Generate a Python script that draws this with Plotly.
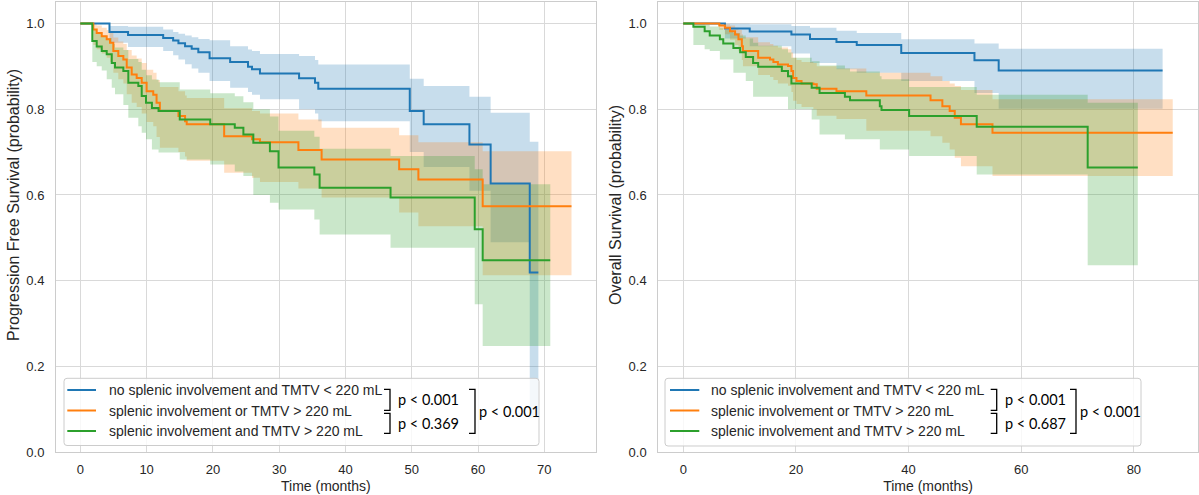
import plotly.graph_objects as go

# ---------------- data ----------------
# Left panel: progression free survival, Kaplan-Meier steps (months, probability)
pfs_a_t = [0, 4.4, 7.2, 12.5, 14.0, 14.8, 15.8, 16.8, 17.8, 19.5, 22.6, 25.3, 25.9, 27.1, 33.0, 35.4, 35.9, 49.7, 51.8, 58.7, 61.9, 67.8, 69.1]
pfs_a_s = [1.0, .980, .973, .966, .960, .954, .947, .941, .933, .919, .910, .899, .893, .883, .872, .862, .848, .796, .765, .718, .627, .419, .419]
pfs_a_lo = [1.0, .955, .945, .936, .926, .916, .905, .895, .885, .866, .850, .840, .834, .823, .800, .790, .772, .700, .665, .610, .490, .080, .080]
pfs_a_up = [1.0, .994, .992, .986, .980, .976, .972, .968, .964, .961, .947, .939, .936, .929, .924, .915, .904, .871, .854, .829, .792, .724, .724]

pfs_b_t = [0, 1.96, 2.47, 3.23, 3.98, 4.48, 4.98, 5.73, 6.49, 7.0, 7.75, 8.5, 9.26, 10.0, 11.0, 11.5, 12.0, 14.8, 15.8, 16.05, 21.7, 25.9, 27.1, 32.9, 36.4, 48.1, 51.0, 60.7, 74.1]
pfs_b_s = [1.0, .986, .978, .970, .963, .955, .936, .924, .916, .897, .881, .873, .862, .842, .834, .815, .796, .784, .772, .765, .737, .730, .723, .705, .683, .660, .636, .574, .574]
pfs_b_lo = [1.0, .95, .94, .93, .92, .91, .885, .87, .86, .835, .815, .805, .79, .77, .76, .735, .71, .70, .69, .68, .652, .64, .63, .615, .594, .559, .527, .413, .413]
pfs_b_up = [1.0, .998, .995, .99, .985, .98, .967, .958, .952, .938, .925, .918, .908, .892, .885, .868, .852, .842, .832, .826, .802, .796, .79, .776, .757, .739, .723, .702, .702]

pfs_c_t = [0, 1.81, 2.47, 3.23, 3.98, 4.74, 5.23, 6.49, 7.24, 8.75, 9.26, 9.91, 10.8, 11.8, 15.0, 19.6, 23.3, 24.6, 26.1, 28.6, 29.9, 35.3, 36.1, 46.8, 59.5, 60.7, 70.9]
pfs_c_s = [1.0, .959, .946, .936, .928, .908, .897, .889, .862, .854, .831, .815, .803, .796, .776, .765, .757, .741, .722, .702, .664, .648, .617, .594, .520, .448, .448]
pfs_c_lo = [1.0, .91, .90, .89, .87, .85, .835, .81, .78, .76, .745, .73, .706, .699, .683, .671, .655, .644, .60, .582, .566, .543, .508, .477, .345, .248, .248]
pfs_c_up = [1.0, .985, .978, .972, .966, .952, .944, .938, .917, .91, .892, .879, .869, .863, .846, .837, .830, .816, .80, .783, .75, .736, .708, .691, .66, .625, .625]

# Right panel: overall survival
os_a_t = [0, 7.4, 11.8, 19.2, 22.5, 27.2, 30.8, 38.7, 51.7, 56.0, 85.1]
os_a_s = [1.0, .988, .981, .974, .964, .957, .950, .931, .914, .890, .890]
os_a_lo = [1.0, .965, .947, .93, .908, .893, .885, .866, .838, .801, .801]
os_a_up = [1.0, .999, .998, .994, .99, .983, .978, .963, .953, .941, .941]

os_b_t = [0, 6.4, 7.4, 8.3, 9.2, 9.8, 10.4, 10.6, 13.3, 15.4, 16.0, 16.8, 18.6, 19.2, 19.5, 20.1, 21.0, 23.1, 23.7, 27.2, 32.5, 43.9, 46.0, 47.3, 48.2, 49.3, 54.9, 86.9]
os_b_s = [1.0, .995, .990, .982, .974, .963, .947, .936, .920, .916, .910, .904, .901, .889, .873, .866, .860, .858, .848, .842, .832, .821, .807, .796, .780, .765, .745, .745]
os_b_lo = [1.0, .985, .975, .962, .95, .935, .915, .90, .88, .875, .868, .86, .855, .84, .82, .812, .805, .80, .785, .777, .75, .737, .722, .706, .687, .667, .644, .644]
os_b_up = [1.0, 1.0, .998, .995, .99, .985, .975, .968, .956, .952, .948, .944, .94, .932, .92, .915, .91, .908, .9, .895, .885, .877, .866, .86, .854, .845, .823, .823]

os_c_t = [0, 1.8, 3.8, 4.7, 6.5, 7.1, 8.9, 10.1, 11.1, 12.4, 13.3, 17.5, 18.6, 19.2, 22.8, 24.2, 28.7, 29.6, 34.9, 35.2, 40.1, 52.1, 71.8, 80.7]
os_c_s = [1.0, .992, .982, .972, .963, .953, .943, .933, .922, .908, .899, .889, .877, .860, .850, .838, .829, .821, .807, .798, .784, .759, .664, .664]
os_c_lo = [1.0, .95, .94, .936, .916, .916, .885, .885, .866, .829, .829, .829, .80, .80, .776, .741, .73, .73, .706, .706, .691, .648, .436, .436]
os_c_up = [1.0, 1.0, .997, .993, .99, .985, .978, .972, .965, .955, .948, .94, .932, .92, .912, .902, .895, .888, .877, .87, .852, .834, .815, .815]

group_labels = ["no splenic involvement and TMTV < 220 mL",
                "splenic involvement or TMTV > 220 mL",
                "splenic involvement and TMTV > 220 mL"]
pfs_pvalues = ["p < 0.001", "p < 0.369", "p < 0.001"]
os_pvalues = ["p < 0.001", "p < 0.687", "p < 0.001"]
x_ticks_left = [0, 10, 20, 30, 40, 50, 60, 70]
x_ticks_right = [0, 20, 40, 60, 80]
y_ticks = [0.0, 0.2, 0.4, 0.6, 0.8, 1.0]
x_title = "Time (months)"
y_title_left = "Progression Free Survival (probability)"
y_title_right = "Overall Survival (probability)"

# ---------------- styling ----------------
W, H = 1199, 495
COLORS = ["#1f77b4", "#ff7f0e", "#2ca02c"]
BANDS = ["rgba(31,119,180,0.25)", "rgba(255,127,14,0.25)", "rgba(44,160,44,0.25)"]
FONT = "Liberation Sans, Arial, sans-serif"
PFONT = "Lato, Carlito, Calibri, sans-serif"
TXT = "#262626"
GRID = "#d9d9d9"


def px(x):
    return x / W


def py(y):
    return 1 - y / H


fig = go.Figure()

panels = [
    ("x", "y", [(pfs_a_t, pfs_a_s, pfs_a_lo, pfs_a_up),
                (pfs_b_t, pfs_b_s, pfs_b_lo, pfs_b_up),
                (pfs_c_t, pfs_c_s, pfs_c_lo, pfs_c_up)]),
    ("x2", "y2", [(os_a_t, os_a_s, os_a_lo, os_a_up),
                  (os_b_t, os_b_s, os_b_lo, os_b_up),
                  (os_c_t, os_c_s, os_c_lo, os_c_up)]),
]

for xa, ya, curves in panels:
    for i, (t, s, lo, up) in enumerate(curves):
        fig.add_trace(go.Scatter(x=t, y=lo, mode="lines", xaxis=xa, yaxis=ya,
                                 line=dict(width=0, shape="hv", color=BANDS[i]),
                                 showlegend=False, hoverinfo="skip"))
        fig.add_trace(go.Scatter(x=t, y=up, mode="lines", xaxis=xa, yaxis=ya,
                                 line=dict(width=0, shape="hv", color=BANDS[i]),
                                 fill="tonexty", fillcolor=BANDS[i],
                                 showlegend=False, hoverinfo="skip"))
    for i, (t, s, lo, up) in enumerate(curves):
        fig.add_trace(go.Scatter(x=t, y=s, mode="lines", xaxis=xa, yaxis=ya,
                                 name=group_labels[i],
                                 line=dict(width=2, shape="hv", color=COLORS[i]),
                                 showlegend=False))

axis_common = dict(showgrid=True, gridcolor=GRID, gridwidth=1, showline=True,
                   linecolor="#cccccc", linewidth=1, mirror=True, zeroline=False,
                   automargin=False,
                   ticks="", tickfont=dict(family=FONT, size=13, color=TXT))

fig.update_layout(
    width=W, height=H,
    margin=dict(l=0, r=0, t=0, b=0),
    paper_bgcolor="white", plot_bgcolor="white",
    showlegend=False,
    xaxis=dict(domain=[px(56), px(595.7)], range=[-3.67, 77.75], tickvals=x_ticks_left,
               anchor="y", ticklabelstandoff=5,
               title=dict(text=x_title, font=dict(family=FONT, size=14, color=TXT), standoff=5),
               **axis_common),
    yaxis=dict(domain=[py(452.3), py(2)], range=[0, 1.05], tickvals=y_ticks, tickformat=".1f",
               anchor="x", ticklabelstandoff=8, **axis_common),
    xaxis2=dict(domain=[px(658.3), px(1197.8)], range=[-4.43, 91.35], tickvals=x_ticks_right,
                anchor="y2", ticklabelstandoff=5,
                title=dict(text=x_title, font=dict(family=FONT, size=14, color=TXT), standoff=5),
                **axis_common),
    yaxis2=dict(domain=[py(452.3), py(2)], range=[0, 1.05], tickvals=y_ticks, tickformat=".1f",
                anchor="x2", ticklabelstandoff=8, **axis_common),
)


def rrect_path(x0, y0, x1, y1, r):
    pts = [("M", x0 + r, y0), ("L", x1 - r, y0), ("Q", x1, y0, x1, y0 + r), ("L", x1, y1 - r),
           ("Q", x1, y1, x1 - r, y1), ("L", x0 + r, y1), ("Q", x0, y1, x0, y1 - r),
           ("L", x0, y0 + r), ("Q", x0, y0, x0 + r, y0)]
    out = []
    for p in pts:
        cmd = p[0]
        coords = p[1:]
        seg = cmd + " " + " ".join(f"{px(coords[k]):.5f},{py(coords[k+1]):.5f}" for k in range(0, len(coords), 2))
        out.append(seg)
    return " ".join(out) + " Z"


def poly_path(points):
    return "M " + " L ".join(f"{px(x):.5f},{py(y):.5f}" for x, y in points)


shapes = []
annotations = []

# y axis titles (vertical text)
for xc, txt in ((13, y_title_left), (615, y_title_right)):
    annotations.append(dict(xref="paper", yref="paper", x=px(xc), y=py(205), textangle=-90,
                            xanchor="center", yanchor="middle", showarrow=False, text=txt,
                            font=dict(family=FONT, size=16, color=TXT)))

legends = [
    dict(box=(64, 378.3, 539, 445.5), lx=(67.3, 96), tx=107.3, rows=(390, 410.5, 431),
         bx=390, bigx=475, pv=pfs_pvalues),
    dict(box=(665, 378.3, 1141, 446), lx=(670, 699.3), tx=709.3, rows=(390, 410.5, 431),
         bx=996.7, bigx=1076, pv=os_pvalues),
]

for L in legends:
    x0, y0, x1, y1 = L["box"]
    shapes.append(dict(type="path", xref="paper", yref="paper", layer="above",
                       path=rrect_path(x0, y0, x1, y1, 3),
                       fillcolor="rgba(255,255,255,0.8)", line=dict(color="#cccccc", width=1)))
    for i, yrow in enumerate(L["rows"]):
        shapes.append(dict(type="line", xref="paper", yref="paper", layer="above",
                           x0=px(L["lx"][0]), x1=px(L["lx"][1]), y0=py(yrow), y1=py(yrow),
                           line=dict(color=COLORS[i], width=2)))
        annotations.append(dict(xref="paper", yref="paper", x=px(L["tx"]), y=py(yrow),
                                xanchor="left", yanchor="middle", showarrow=False,
                                text=group_labels[i], font=dict(family=FONT, size=14, color=TXT)))
    bx = L["bx"]
    bg = L["bigx"]
    tk = 6
    shapes.append(dict(type="path", xref="paper", yref="paper", layer="above",
                       path=poly_path([(bx - tk, 389.3), (bx, 389.3), (bx, 410.3), (bx - tk, 410.3)]),
                       line=dict(color="black", width=1.3)))
    shapes.append(dict(type="path", xref="paper", yref="paper", layer="above",
                       path=poly_path([(bx - tk, 413.3), (bx, 413.3), (bx, 433.3), (bx - tk, 433.3)]),
                       line=dict(color="black", width=1.3)))
    shapes.append(dict(type="path", xref="paper", yref="paper", layer="above",
                       path=poly_path([(bg - tk, 389.3), (bg, 389.3), (bg, 433.3), (bg - tk, 433.3)]),
                       line=dict(color="black", width=1.3)))
    annotations.append(dict(xref="paper", yref="paper", x=px(bx + 6), y=py(399.5),
                            xanchor="left", yanchor="middle", showarrow=False,
                            text=L["pv"][0], font=dict(family=PFONT, size=14.5, color="black")))
    annotations.append(dict(xref="paper", yref="paper", x=px(bx + 6), y=py(423),
                            xanchor="left", yanchor="middle", showarrow=False,
                            text=L["pv"][1], font=dict(family=PFONT, size=14.5, color="black")))
    annotations.append(dict(xref="paper", yref="paper", x=px(bg + 2), y=py(411.5),
                            xanchor="left", yanchor="middle", showarrow=False,
                            text=L["pv"][2], font=dict(family=PFONT, size=14.5, color="black")))

fig.update_layout(shapes=shapes, annotations=annotations)
fig.write_html("out.html", config={"displayModeBar": False},
               post_script="document.body.style.margin='0px';")
